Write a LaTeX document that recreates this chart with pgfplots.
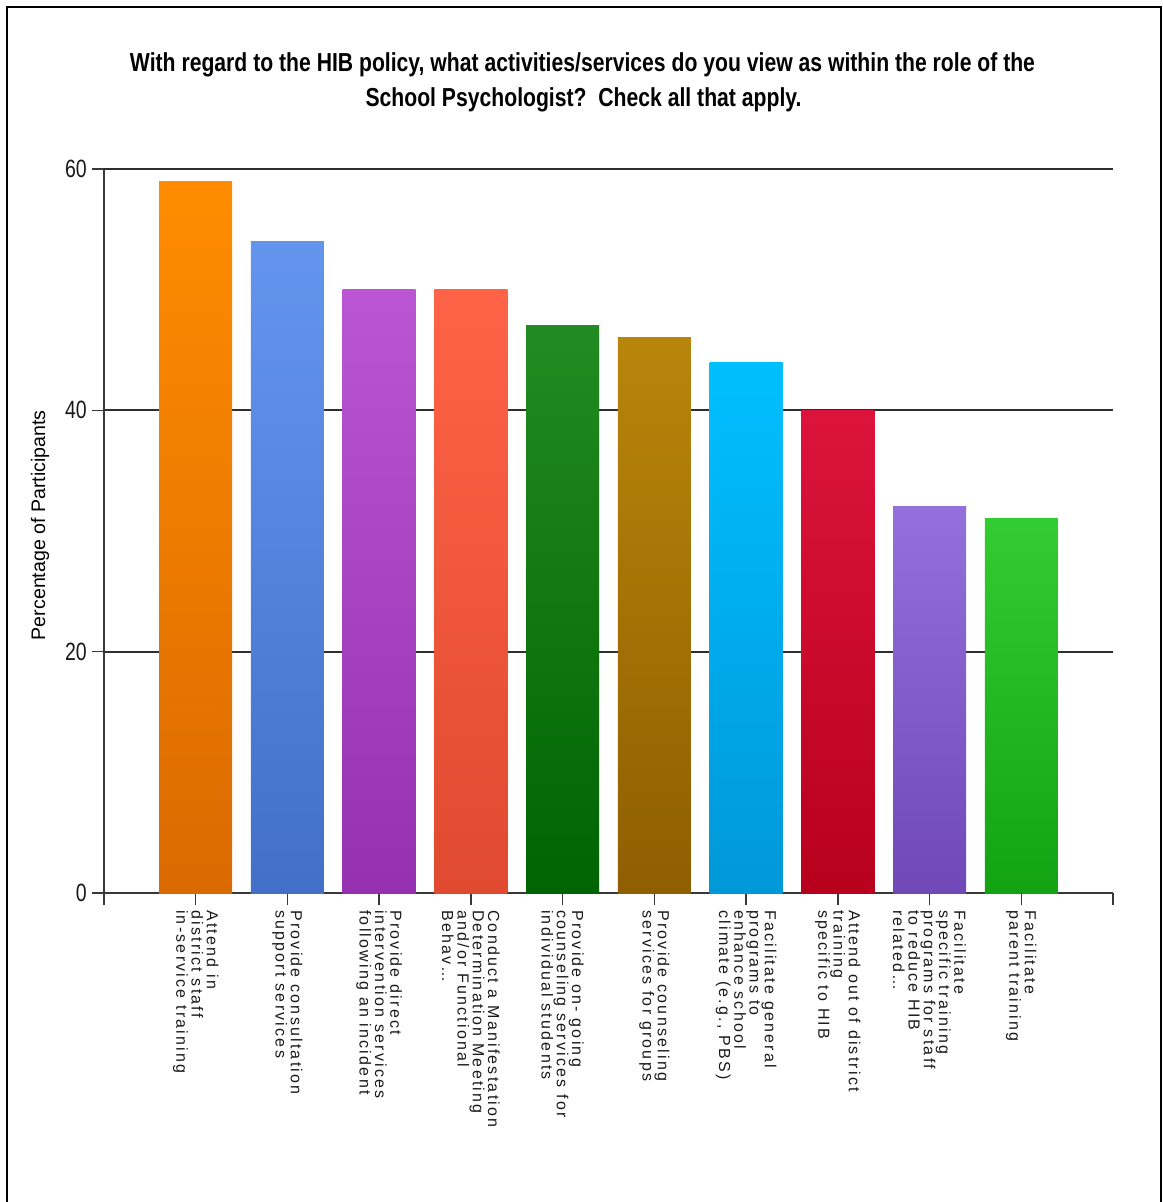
\documentclass[border=0pt]{standalone}
\usepackage{fontspec}
\setmainfont{Liberation Sans}
\usepackage{pgfplots}
\pgfplotsset{compat=1.18}
\newfontfamily\ticklabfont[LetterSpace=14]{Liberation Sans}
\newfontfamily\narrowfont[FakeStretch=0.78]{Liberation Sans}
\newfontfamily\titlefont{Liberation Sans}
\newlength\titlew
\newcommand\titleA{With regard to the HIB policy, what activities/services do you view as within the role of the}
\definecolor{c1t}{HTML}{FF8C00}\definecolor{c1b}{HTML}{DA6A00}
\definecolor{c2t}{HTML}{6495ED}\definecolor{c2b}{HTML}{4270C9}
\definecolor{c3t}{HTML}{BA55D3}\definecolor{c3b}{HTML}{9531B0}
\definecolor{c4t}{HTML}{FF6347}\definecolor{c4b}{HTML}{E04A30}
\definecolor{c5t}{HTML}{228B22}\definecolor{c5b}{HTML}{006400}
\definecolor{c6t}{HTML}{B8860B}\definecolor{c6b}{HTML}{8F5E00}
\definecolor{c7t}{HTML}{00BFFF}\definecolor{c7b}{HTML}{0098D8}
\definecolor{c8t}{HTML}{DC143C}\definecolor{c8b}{HTML}{B8001C}
\definecolor{c9t}{HTML}{9370DB}\definecolor{c9b}{HTML}{7048B8}
\definecolor{c10t}{HTML}{32CD32}\definecolor{c10b}{HTML}{12A312}
\begin{document}%
\settowidth\titlew{\titlefont\bfseries\fontsize{26}{30}\selectfont\titleA}%
\pgfmathsetmacro\tsc{905/\titlew}%
\begin{tikzpicture}[x=1pt,y=1pt]
\useasboundingbox (0pt,0pt) rectangle (1162pt,-1202pt);
\draw[line width=2pt] (7pt,-1210pt) -- (7pt,-7pt) -- (1161pt,-7pt) -- (1161pt,-1210pt);
\node[anchor=base, inner sep=0pt] at (582.5pt,-71pt) {\scalebox{\tsc}[1]{\titlefont\bfseries\fontsize{26}{30}\selectfont\titleA}};
\node[anchor=base, inner sep=0pt] at (583.5pt,-106pt) {\scalebox{\tsc}[1]{\titlefont\bfseries\fontsize{26}{30}\selectfont School Psychologist?\ \ Check all that apply.}};
\begin{axis}[
  at={(104pt,-893pt)}, anchor=south west,
  scale only axis, width=1009pt, height=724pt,
  xmin=-1, xmax=10, ymin=0, ymax=60,
  axis x line*=bottom, axis y line*=left,
  axis line style={draw=black!78, line width=1.5pt},
  ytick={0,20,40,60},
  ymajorgrids, grid style={draw=black!82, line width=2pt},
  tick align=outside, major tick length=12pt,
  tick style={draw=black!78, line width=1.5pt},
  xtick={0,1,2,3,4,5,6,7,8,9},
  extra x ticks={-1,10}, extra x tick labels={},
  xticklabels={
    {Attend in\\district staff\\in-service training},
    {Provide consultation\\support services},
    {Provide direct\\intervention services\\following an incident},
    {Conduct a Manifestation\\Determination Meeting\\and/or Functional\\Behav\ldots},
    {Provide on- going\\counseling services for\\individual students},
    {Provide counseling\\services for groups},
    {Facilitate general\\programs to\\enhance school\\climate (e.g., PBS)},
    {Attend out of district\\training\\specific to HIB},
    {Facilitate\\specific training\\programs for staff\\to reduce HIB\\related\ldots},
    {Facilitate\\parent training}},
  xticklabel style={rotate=-90, anchor=west, align=left, inner sep=0pt,
    font=\ticklabfont\fontsize{16}{15.3}\selectfont, text=black!90},
  xticklabel shift=5pt,
  /pgf/number format/assume math mode=true,
  yticklabel style={anchor=east, inner sep=0pt,
    font=\narrowfont\fontsize{25}{25}\selectfont, text=black!90},
  yticklabel shift=5pt,
  ylabel={Percentage of Participants},
  every axis y label/.style={at={(axis description cs:-0.0634,0.508)}, rotate=90, anchor=center,
    font=\fontsize{19.6}{22}\selectfont},
  mybar/.style n args={2}{ybar, bar width=73pt, bar shift=0pt, draw=none, top color=#1, bottom color=#2},
]
\addplot[mybar={c1t}{c1b}] coordinates {(0,59)};
\addplot[mybar={c2t}{c2b}] coordinates {(1,54)};
\addplot[mybar={c3t}{c3b}] coordinates {(2,50)};
\addplot[mybar={c4t}{c4b}] coordinates {(3,50)};
\addplot[mybar={c5t}{c5b}] coordinates {(4,47)};
\addplot[mybar={c6t}{c6b}] coordinates {(5,46)};
\addplot[mybar={c7t}{c7b}] coordinates {(6,44)};
\addplot[mybar={c8t}{c8b}] coordinates {(7,40)};
\addplot[mybar={c9t}{c9b}] coordinates {(8,32)};
\addplot[mybar={c10t}{c10b}] coordinates {(9,31)};
\end{axis}
\end{tikzpicture}%
\end{document}
